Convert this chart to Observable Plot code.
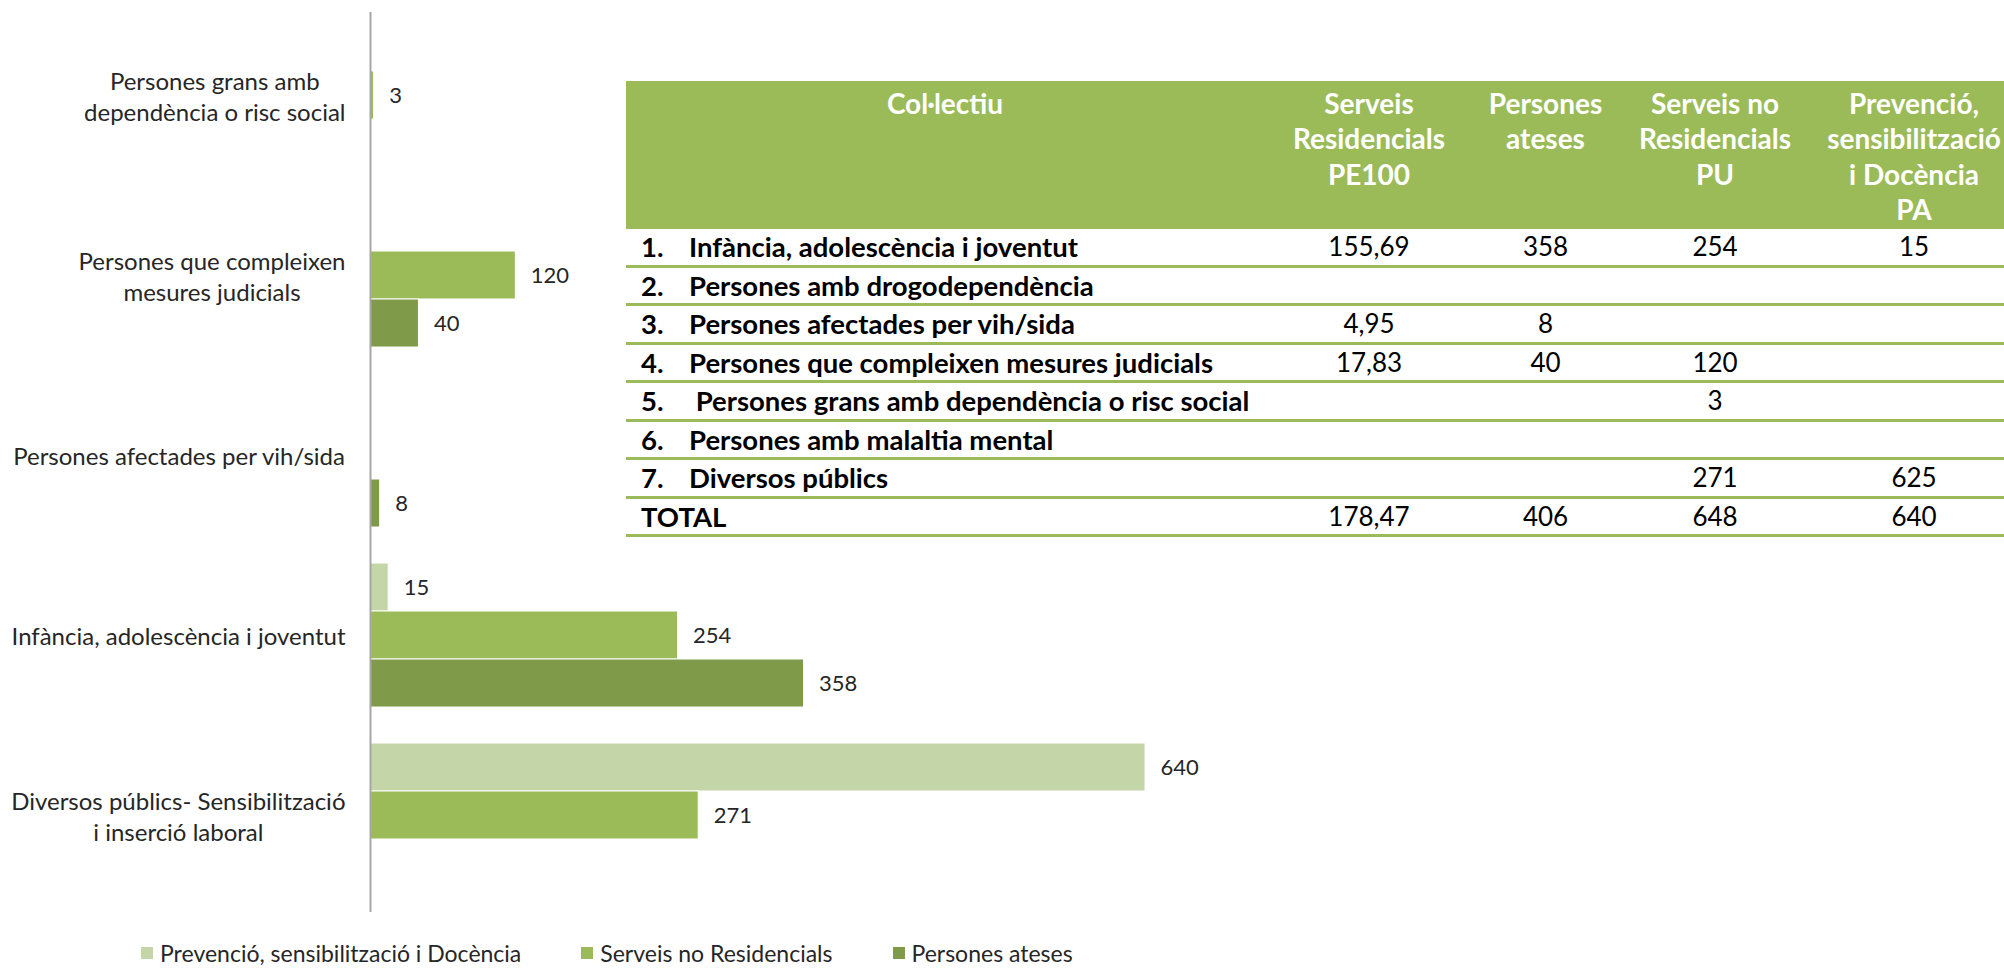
<!DOCTYPE html>
<html>
<head>
<meta charset="utf-8">
<script src="https://cdn.jsdelivr.net/npm/d3@7"></script>
<script src="https://cdn.jsdelivr.net/npm/@observablehq/plot@0.6"></script>
<style>
  html, body { margin: 0; padding: 0; background: #fff; }
  #page { position: relative; width: 2004px; height: 968px; overflow: hidden; font-family: Lato, sans-serif; }
  #chart svg { display: block; }
  #legend { position: absolute; left: 141px; top: 935px; height: 36px; display: flex; align-items: center; font-size: 23px; line-height: 26px; color: #262626; white-space: nowrap; }
  #legend .item { display: flex; align-items: center; margin-right: 60px; }
  #legend .sw { width: 12px; height: 12px; margin-right: 7px; }
  #tbl { position: absolute; left: 626px; top: 81px; border-collapse: separate; border-spacing: 0; table-layout: fixed; width: 1389px; font-family: Lato, sans-serif; font-size: 26px; color: #000; }
  #tbl th { background: #9BBB59; color: #fff; font-weight: 700; font-size: 28px; line-height: 35.5px; padding: 4.6px 0 1.7px 0; vertical-align: top; text-align: center; white-space: pre-line; }
  #tbl td { padding: 0; line-height: 35.5px; border-bottom: 3px solid #9BBB59; text-align: center; white-space: pre; }
  #tbl td.lab { text-align: left; padding-left: 15px; font-weight: 700; font-size: 27.5px; }
  #tbl td.lab .num { display: inline-block; width: 48px; }
</style>
</head>
<body>
<div id="page">
  <div id="chart"></div>
  <table id="tbl"></table>
  <div id="legend"></div>
</div>
<script>
// ---------- Chart data ----------
const categories = [
  "Persones grans amb\ndependència o risc social",
  "Persones que compleixen\nmesures judicials",
  "Persones afectades per vih/sida",
  "Infància, adolescència i joventut",
  "Diversos públics- Sensibilització\ni inserció laboral"
];
const seriesNames = ["Prevenció, sensibilització i Docència", "Serveis no Residencials", "Persones ateses"];
const seriesColors = ["#C4D6A8", "#9BBB59", "#7F9A48"];
const prevencio      = [null, null, null, 15, 640];
const serveisNoRes   = [3, 120, null, 254, 271];
const personesAteses = [null, 40, 8, 358, null];

// ---------- Table data ----------
const tableHeaders = ["Col·lectiu", "Serveis\nResidencials\nPE100", "Persones\nateses", "Serveis no\nResidencials\nPU", "Prevenció,\nsensibilització\ni Docència\nPA"];
const tableNumbers = ["1.", "2.", "3.", "4.", "5.", "6.", "7.", ""];
const tableLabels = [
  "Infància, adolescència i joventut",
  "Persones amb drogodependència",
  "Persones afectades per vih/sida",
  "Persones que compleixen mesures judicials",
  "\u00a0Persones grans amb dependència o risc social",
  "Persones amb malaltia mental",
  "Diversos públics",
  "TOTAL"
];
const colResidencials = ["155,69", "", "4,95", "17,83", "", "", "", "178,47"];
const colAteses       = ["358", "", "8", "40", "", "", "", "406"];
const colNoResid      = ["254", "", "", "120", "3", "", "271", "648"];
const colPrevencio    = ["15", "", "", "", "", "", "625", "640"];
const colWidths = [638, 210, 143, 196, 202];

// ---------- Build chart ----------
const seriesValues = [prevencio, serveisNoRes, personesAteses];
const data = [];
categories.forEach((c, i) => {
  seriesNames.forEach((s, j) => {
    const v = seriesValues[j][i];
    if (v != null) data.push({category: c, series: s, value: v});
  });
});

const labelSize = 24;
const ctx = document.createElement("canvas").getContext("2d");
ctx.font = labelSize + "px Lato";
function maxLineWidth(t) { return d3.max(t.split("\n"), l => ctx.measureText(l).width); }

const categoryLabelMarks = categories.map(c => Plot.text([c], {
  fy: d => d,
  text: d => d,
  frameAnchor: "left",
  textAnchor: "middle",
  dx: -(25 + maxLineWidth(c) / 2),
  lineHeight: 1.3,
  fontSize: labelSize,
  fill: "#262626"
}));

const chart = Plot.plot({
  width: 2004,
  height: 930,
  marginLeft: 370,
  marginRight: 423,
  marginTop: 5,
  marginBottom: 25,
  style: {fontFamily: "Lato, sans-serif", fontSize: "22px", background: "transparent", overflow: "visible"},
  x: {domain: [0, 1000], axis: null},
  y: {domain: seriesNames, padding: 0, axis: null},
  fy: {domain: categories, paddingInner: 0.2, paddingOuter: 0.1, axis: null},
  color: {domain: seriesNames, range: seriesColors},
  marks: [
    Plot.barX(data, {x: "value", y: "series", fy: "category", fill: "series", stroke: "#fff", strokeWidth: 1}),
    Plot.text(data, {x: "value", y: "series", fy: "category", text: d => String(d.value), dx: 15, textAnchor: "start", fontSize: 22, fill: "#262626"}),
    Plot.ruleX([0], {stroke: "#a6a6a6", strokeWidth: 2, insetTop: -11, insetBottom: -25}),
    ...categoryLabelMarks
  ]
});
document.getElementById("chart").appendChild(chart);

// ---------- Legend ----------
const legend = d3.select("#legend");
seriesNames.forEach((s, i) => {
  const it = legend.append("div").attr("class", "item");
  it.append("div").attr("class", "sw").style("background", seriesColors[i]);
  it.append("span").text(s);
});

// ---------- Table ----------
const tbl = d3.select("#tbl");
const cg = tbl.append("colgroup");
colWidths.forEach(w => cg.append("col").style("width", w + "px"));
const hr = tbl.append("thead").append("tr");
tableHeaders.forEach(h => hr.append("th").text(h));
const tb = tbl.append("tbody");
tableLabels.forEach((lab, i) => {
  const tr = tb.append("tr");
  const td = tr.append("td").attr("class", "lab");
  if (tableNumbers[i]) td.append("span").attr("class", "num").text(tableNumbers[i]);
  td.append("span").text(lab);
  [colResidencials, colAteses, colNoResid, colPrevencio].forEach(col => tr.append("td").text(col[i]));
});
</script>
</body>
</html>
